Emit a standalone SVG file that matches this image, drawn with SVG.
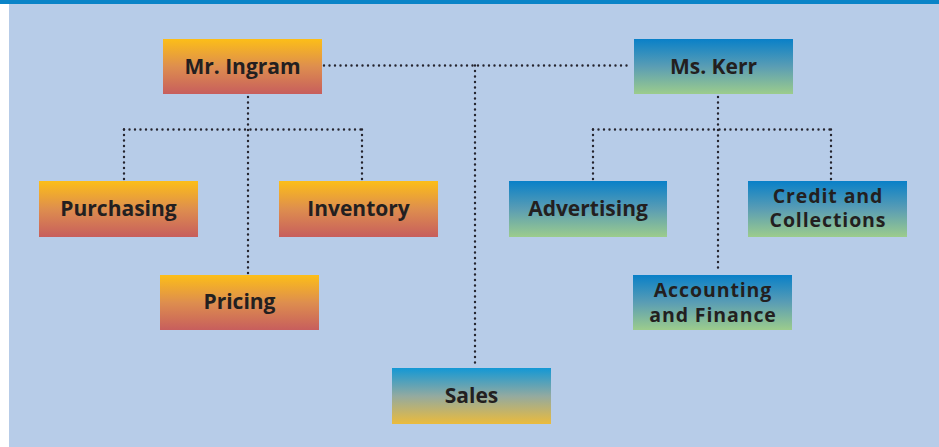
<svg xmlns="http://www.w3.org/2000/svg" width="939" height="447" viewBox="0 0 939 447">
<defs>
<linearGradient id="gOrange" x1="0" y1="0" x2="0" y2="1">
<stop offset="0" stop-color="#FCBE18"/>
<stop offset="0.5" stop-color="#DE8E4E"/>
<stop offset="1" stop-color="#C75E5D"/>
</linearGradient>
<linearGradient id="gBlue" x1="0" y1="0" x2="0" y2="1">
<stop offset="0" stop-color="#0980C8"/>
<stop offset="0.5" stop-color="#5A9DB4"/>
<stop offset="1" stop-color="#9CCC8C"/>
</linearGradient>
<linearGradient id="gSales" x1="0" y1="0" x2="0" y2="1">
<stop offset="0" stop-color="#1398D5"/>
<stop offset="0.5" stop-color="#93AAA0"/>
<stop offset="1" stop-color="#EBBB3C"/>
</linearGradient>
</defs>
<style>
.lbl{font-family:"Open Sans","Noto Sans","Liberation Sans",sans-serif;font-weight:bold;font-size:21px;fill:#231F20;text-anchor:middle}
.two{font-size:19.5px;letter-spacing:0.9px}
.dot{fill:none;stroke:#25242E;stroke-width:2.4;stroke-linecap:round;stroke-dasharray:0 5.5}
.o{fill:url(#gOrange)}
.b{fill:url(#gBlue)}
.s{fill:url(#gSales)}
</style>
<rect x="0" y="0" width="939" height="447" fill="#FFFFFF"/>
<rect x="9" y="0" width="930" height="447" fill="#B7CCE8"/>
<rect x="0" y="0" width="939" height="4" fill="#0A84C8"/>
<g id="connectors">
<path class="dot" d="M324 65.5 H632"/>
<path class="dot" d="M475 65.5 V366"/>
<path class="dot" d="M248 97 V278"/>
<path class="dot" d="M124 129.5 H362"/>
<path class="dot" d="M124 129.5 V184"/>
<path class="dot" d="M362 129.5 V184"/>
<path class="dot" d="M718 97 V272"/>
<path class="dot" d="M593 129.5 H831"/>
<path class="dot" d="M593 129.5 V184"/>
<path class="dot" d="M831 129.5 V184"/>
</g>
<g id="mr-ingram"><rect class="o" x="163" y="39" width="159" height="55"/><text class="lbl" x="242.5" y="73.5">Mr. Ingram</text></g>
<g id="ms-kerr"><rect class="b" x="634" y="39" width="159" height="55"/><text class="lbl" x="713.5" y="73.5">Ms. Kerr</text></g>
<g id="purchasing"><rect class="o" x="39" y="181" width="159" height="56"/><text class="lbl" x="118.5" y="215.5">Purchasing</text></g>
<g id="inventory"><rect class="o" x="279" y="181" width="159" height="56"/><text class="lbl" x="358.5" y="215.5">Inventory</text></g>
<g id="pricing"><rect class="o" x="160" y="275" width="159" height="55"/><text class="lbl" x="239.5" y="308.5">Pricing</text></g>
<g id="advertising"><rect class="b" x="509" y="181" width="158" height="56"/><text class="lbl" x="588" y="215.5">Advertising</text></g>
<g id="credit"><rect class="b" x="748" y="181" width="159" height="56"/><text class="lbl two" x="828" y="202.5">Credit and</text><text class="lbl two" x="828" y="227">Collections</text></g>
<g id="accounting"><rect class="b" x="633" y="275" width="159" height="55"/><text class="lbl two" x="713" y="297">Accounting</text><text class="lbl two" x="713" y="321.5">and Finance</text></g>
<g id="sales"><rect class="s" x="392" y="368" width="159" height="56"/><text class="lbl" x="471.5" y="402.5">Sales</text></g>
</svg>
